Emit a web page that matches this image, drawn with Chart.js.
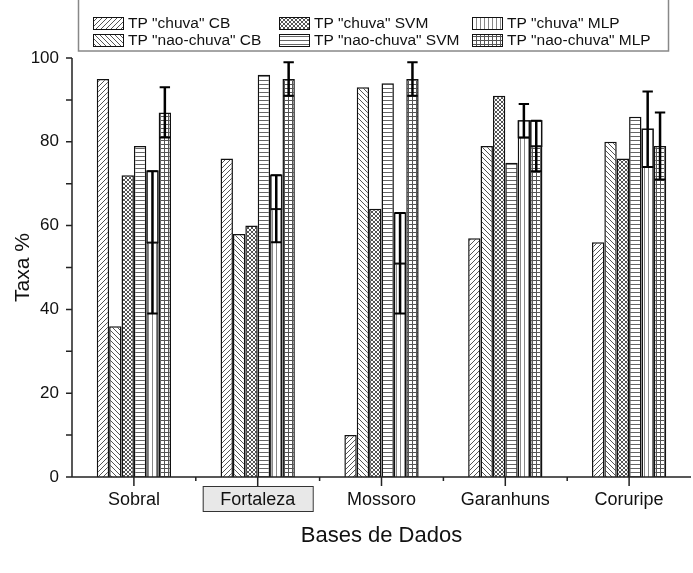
<!DOCTYPE html>
<html>
<head>
<meta charset="utf-8">
<script src="https://cdn.jsdelivr.net/npm/chart.js@4.4.1/dist/chart.umd.min.js"></script>
<style>
  html, body { margin: 0; padding: 0; background: #fff; }
  #wrap { width: 693px; height: 573px; position: relative; }
</style>
</head>
<body>
<div id="wrap"><canvas id="taxa-chart" width="693" height="573"></canvas></div>
<script>
/************************************************************
    Grouped bar chart - TP por base de dados
*************************************************************/

var categories = ['Sobral', 'Fortaleza', 'Mossoro', 'Garanhuns', 'Coruripe'];
var yTicks = [0, 20, 40, 60, 80, 100];

var cbChuva = [95, 76, 10, 57, 56];
var cbNaoChuva = [36, 58, 93, 79, 80];
var svmChuva = [72, 60, 64, 91, 76];
var svmNaoChuva = [79, 96, 94, 75, 86];
var mlpChuva = [56, 64, 51, 85, 83];
var mlpChuvaErr = [17, 8, 12, 4, 9];
var mlpNaoChuva = [87, 95, 95, 79, 79];
var mlpNaoChuvaErr = [6, 4, 4, 6, 8];
// white boxes the original draws over the MLP bars (low, high)
var mlpChuvaBox = [[56, 73], [64, 72], [51, 63], [81, 85], [74, 83]];
var mlpNaoChuvaBox = [null, null, null, [79, 85], null];

var FONT = '"Liberation Sans", Arial, sans-serif';

//Build a small repeating hatch pattern
function makePattern(kind) {
    var s = kind == 'fwd' || kind == 'back' ? 5 : 4;
    var c = document.createElement('canvas');
    c.width = s; c.height = s;
    var g = c.getContext('2d');
    g.fillStyle = '#fff';
    g.fillRect(0, 0, s, s);
    g.lineWidth = 1;
    g.strokeStyle = '#555';
    g.beginPath();
    if (kind == 'fwd' || kind == 'cross') {
        g.moveTo(-1, s + 1); g.lineTo(s + 1, -1);
        g.moveTo(-1, 1); g.lineTo(1, -1);
        g.moveTo(s - 1, s + 1); g.lineTo(s + 1, s - 1);
    }
    if (kind == 'back' || kind == 'cross') {
        g.moveTo(-1, -1); g.lineTo(s + 1, s + 1);
        g.moveTo(s - 1, -1); g.lineTo(s + 1, 1);
        g.moveTo(-1, s - 1); g.lineTo(1, s + 1);
    }
    if (kind == 'horiz' || kind == 'grid') {
        g.moveTo(0, 0.5); g.lineTo(s, 0.5);
    }
    if (kind == 'vert') {
        g.strokeStyle = '#888';
        g.moveTo(0.5, 0); g.lineTo(0.5, s);
    }
    if (kind == 'grid') {
        g.moveTo(0.5, 0); g.lineTo(0.5, s);
    }
    if (kind == 'horiz') g.strokeStyle = '#666';
    g.stroke();
    return g.createPattern(c, 'repeat');
}

var series = [
    { label: 'TP "chuva" CB', data: cbChuva, pat: 'fwd' },
    { label: 'TP "nao-chuva" CB', data: cbNaoChuva, pat: 'back' },
    { label: 'TP "chuva" SVM', data: svmChuva, pat: 'cross' },
    { label: 'TP "nao-chuva" SVM', data: svmNaoChuva, pat: 'horiz' },
    { label: 'TP "chuva" MLP', data: mlpChuva, pat: 'vert', err: mlpChuvaErr, box: mlpChuvaBox },
    { label: 'TP "nao-chuva" MLP', data: mlpNaoChuva, pat: 'grid', err: mlpNaoChuvaErr, box: mlpNaoChuvaBox }
];

var datasets = series.map(function (s) {
    return {
        label: s.label,
        data: s.data,
        backgroundColor: makePattern(s.pat),
        borderColor: '#111',
        borderWidth: 1.5,
        borderSkipped: 'bottom',
        categoryPercentage: 0.6,
        barPercentage: 1.0,
        errBars: s.err,
        boxes: s.box
    };
});

//Fortaleza label box, drawn under the tick text
var labelBoxPlugin = {
    id: 'labelBox',
    beforeDraw: function (chart) {
        var ctx = chart.ctx;
        var x = chart.scales.x.getPixelForValue(1);
        ctx.save();
        ctx.fillStyle = '#e8e8e8';
        ctx.fillRect(x - 55, 486, 110, 25);
        ctx.strokeStyle = '#333';
        ctx.lineWidth = 1;
        ctx.strokeRect(x - 55 + 0.5, 486.5, 110, 25);
        ctx.restore();
    }
};

//Error bars and white boxes for MLP
var errorBarPlugin = {
    id: 'errorBars',
    afterDatasetsDraw: function (chart) {
        var ctx = chart.ctx;
        var y = chart.scales.y;
        chart.data.datasets.forEach(function (ds, i) {
            if (!ds.errBars) return;
            var meta = chart.getDatasetMeta(i);
            meta.data.forEach(function (bar, j) {
                var w = bar.width;
                var x0 = bar.x - w / 2;
                ctx.save();
                if (ds.boxes && ds.boxes[j]) {
                    var yLo = y.getPixelForValue(ds.boxes[j][0]);
                    var yHi = y.getPixelForValue(ds.boxes[j][1]);
                    ctx.fillStyle = '#fff';
                    ctx.fillRect(x0, yHi, w, yLo - yHi);
                    ctx.strokeStyle = '#111';
                    ctx.lineWidth = 1.5;
                    ctx.strokeRect(x0 + 0.75, yHi, w - 1.5, yLo - yHi);
                }
                var v = ds.data[j], e = ds.errBars[j];
                var top = y.getPixelForValue(v + e);
                var bot = y.getPixelForValue(v - e);
                ctx.strokeStyle = '#000';
                ctx.lineWidth = 2.5;
                ctx.beginPath();
                ctx.moveTo(bar.x, top); ctx.lineTo(bar.x, bot);
                ctx.stroke();
                ctx.lineWidth = 2;
                ctx.beginPath();
                ctx.moveTo(bar.x - w / 2 + 1, top); ctx.lineTo(bar.x + w / 2 - 1, top);
                ctx.moveTo(bar.x - w / 2 + 1, bot); ctx.lineTo(bar.x + w / 2 - 1, bot);
                ctx.stroke();
                ctx.restore();
            });
        });
    }
};

//Axis lines, ticks and legend box
var axesPlugin = {
    id: 'axesDraw',
    afterDraw: function (chart) {
        var ctx = chart.ctx;
        var xs = chart.scales.x, ys = chart.scales.y;
        var a = chart.chartArea;
        ctx.save();
        ctx.strokeStyle = '#222';
        ctx.lineWidth = 1.5;
        ctx.beginPath();
        ctx.moveTo(a.left, a.bottom); ctx.lineTo(a.left, a.top);
        ctx.moveTo(a.left - 6, a.bottom); ctx.lineTo(a.right, a.bottom);
        for (var v = 0; v <= 100; v += 10) {
            var py = ys.getPixelForValue(v);
            ctx.moveTo(a.left - 6, py); ctx.lineTo(a.left, py);
        }
        for (var k = 0; k < categories.length; k++) {
            var px = xs.getPixelForValue(k);
            ctx.moveTo(px, a.bottom); ctx.lineTo(px, a.bottom + 9);
            if (k > 0) {
                var bx = (px + xs.getPixelForValue(k - 1)) / 2;
                ctx.moveTo(bx, a.bottom); ctx.lineTo(bx, a.bottom + 4);
            }
        }
        ctx.stroke();

        // legend
        ctx.strokeStyle = '#888';
        ctx.lineWidth = 1.5;
        ctx.strokeRect(78.5, -2, 590, 53);
        var colX = [93, 279, 472];
        var rowY = [23, 40];
        ctx.font = '15.5px ' + FONT;
        ctx.textBaseline = 'middle';
        ctx.fillStyle = '#111';
        chart.data.datasets.forEach(function (ds, i) {
            var cx = colX[Math.floor(i / 2)], cy = rowY[i % 2];
            ctx.fillStyle = ds.backgroundColor;
            ctx.fillRect(cx, cy - 6, 30, 12);
            ctx.strokeStyle = '#111';
            ctx.lineWidth = 1;
            ctx.strokeRect(cx + 0.5, cy - 5.5, 30, 12);
            ctx.fillStyle = '#111';
            ctx.fillText(ds.label, cx + 35, cy + 1);
        });
        ctx.restore();
    }
};

new Chart(document.getElementById('taxa-chart'), {
    type: 'bar',
    data: {
        labels: categories,
        datasets: datasets
    },
    options: {
        responsive: false,
        animation: false,
        layout: { padding: { top: 58, right: 2, left: 0, bottom: 0 } },
        plugins: {
            legend: { display: false },
            tooltip: { enabled: false }
        },
        scales: {
            x: {
                grid: { display: false, drawTicks: false },
                border: { display: false },
                ticks: { color: '#111', font: { size: 18, family: FONT }, padding: 12, maxRotation: 0 },
                title: { display: true, text: 'Bases de Dados', color: '#111', font: { size: 22, family: FONT }, padding: { top: 6, bottom: 24 } },
                afterFit: function (scale) { scale.height = 96; }
            },
            y: {
                min: 0,
                max: 100,
                afterBuildTicks: function (scale) {
                    scale.ticks = yTicks.map(function (v) { return { value: v }; });
                },
                grid: { display: false, drawTicks: false },
                border: { display: false },
                ticks: { color: '#111', font: { size: 17, family: FONT }, padding: 13 },
                title: { display: true, text: 'Taxa %', color: '#111', font: { size: 21, family: FONT }, padding: { top: 11, bottom: 0 } },
                afterFit: function (scale) { scale.width = 72; }
            }
        }
    },
    plugins: [labelBoxPlugin, errorBarPlugin, axesPlugin]
});
</script>
</body>
</html>
